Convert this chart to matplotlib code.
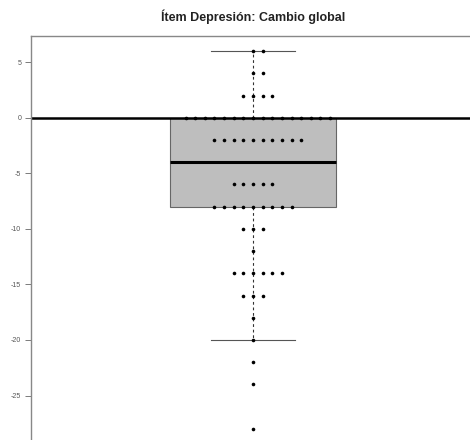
import matplotlib
matplotlib.use("Agg")
import matplotlib.pyplot as plt
import numpy as np

# values (stacked strip chart, even scores)
levels = [6, 4, 2, 0, -2, -6, -8, -10, -12, -14, -16, -18, -20, -22, -24, -28]
counts = [2, 2, 4, 16, 10, 5, 9, 3, 1, 6, 3, 1, 1, 1, 1, 1]

# box summary as drawn
q1, median, q3 = -8, -4, 0
whisker_lo, whisker_hi = -20, 6

yticks = [5, 0, -5, -10, -15, -20, -25]
title = "Ítem Depresión: Cambio global"

plt.rcParams["font.family"] = ["Liberation Sans", "DejaVu Sans"]

W, H = 470, 440
fig = plt.figure(figsize=(W / 100, H / 100), dpi=100)
# plot region in pixels: left 31, right 475 (just off the image), top 36, bottom 444
ax = fig.add_axes([31 / W, 1 - 444 / H, (475 - 31) / W, (444 - 36) / H])

ax.set_xlim(0.5, 1.5)
ax.set_ylim(-29.36, 7.36)

center = 1.0
box_w = 0.374
step = 0.0217

stats = [dict(med=median, q1=q1, q3=q3, whislo=whisker_lo, whishi=whisker_hi, fliers=[])]
ax.bxp(stats, positions=[center], widths=box_w, patch_artist=True, showfliers=False,
       boxprops=dict(facecolor="#bebebe", edgecolor="#666666", linewidth=0.8),
       medianprops=dict(color="black", linewidth=2.2),
       whiskerprops=dict(color="#333333", linewidth=0.8, linestyle=(0, (2.5, 2.5))),
       capprops=dict(color="#555555", linewidth=0.8), capwidths=box_w / 2, zorder=1)

ax.axhline(0, color="black", linewidth=1.8, zorder=2)

# stacked points
xs, ys = [], []
for lev, n in zip(levels, counts):
    start = -((n - 1) // 2)
    for i in range(n):
        xs.append(center + (start + i) * step)
        ys.append(lev)
ax.plot(xs, ys, "o", color="black", markersize=2.6, markeredgewidth=0, zorder=3)

for side in ["left", "top", "right", "bottom"]:
    ax.spines[side].set_color("#888888")
    ax.spines[side].set_linewidth(1.0)

ax.set_xticks([])
ax.set_yticks(yticks)
ax.set_yticklabels([str(t) for t in yticks], fontsize=5, color="#555555")
ax.tick_params(axis="y", length=4, width=0.6, color="#666666", pad=3)

fig.text(253 / W, 1 - 17 / H, title, ha="center", va="center", fontsize=9,
         fontweight="bold", color="#222222")

fig.savefig("out.png", dpi=100)
